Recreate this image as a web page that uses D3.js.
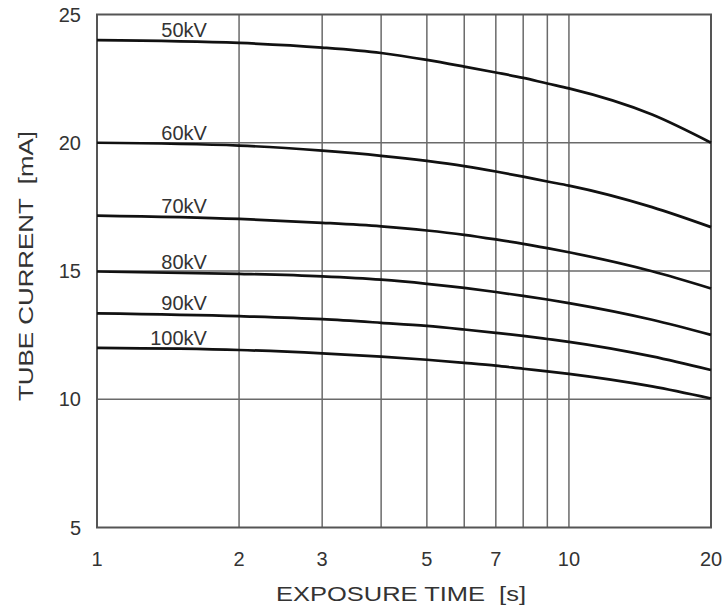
<!DOCTYPE html>
<html>
<head>
<meta charset="utf-8">
<script src="https://cdn.jsdelivr.net/npm/d3@7"></script>
<style>
  html, body { margin: 0; padding: 0; background: #fff; }
  text { font-family: "Liberation Sans", Arial, sans-serif; fill: #333; }
</style>
</head>
<body>
<svg id="chart" width="727" height="613"></svg>
<script>
// ---- data ----
const exposureTimes = [1, 2, 3, 4, 5, 6, 7, 8, 9, 10, 15, 20];
const seriesNames = ["50kV", "60kV", "70kV", "80kV", "90kV", "100kV"];
const current50kV  = [24.0, 23.89, 23.71, 23.5, 23.23, 22.97, 22.74, 22.53, 22.31, 22.12, 21.1, 20.0];
const current60kV  = [20.0, 19.89, 19.69, 19.49, 19.29, 19.09, 18.88, 18.68, 18.49, 18.33, 17.49, 16.71];
const current70kV  = [17.16, 17.03, 16.88, 16.74, 16.58, 16.41, 16.23, 16.06, 15.89, 15.73, 14.99, 14.32];
const current80kV  = [14.98, 14.89, 14.79, 14.66, 14.5, 14.34, 14.18, 14.03, 13.89, 13.75, 13.1, 12.51];
const current90kV  = [13.35, 13.24, 13.12, 12.98, 12.86, 12.72, 12.59, 12.47, 12.35, 12.24, 11.67, 11.14];
const current100kV = [12.0, 11.92, 11.79, 11.66, 11.54, 11.42, 11.31, 11.19, 11.09, 10.99, 10.5, 10.03];
const xTickLabels = [1, 2, 3, 5, 7, 10, 20];
const xGridValues = [2, 3, 4, 5, 6, 7, 8, 9, 10];
const yTickLabels = [5, 10, 15, 20, 25];
const yGridValues = [10, 15, 20];
const xTitle = "EXPOSURE TIME  [s]";
const yTitle = "TUBE CURRENT  [mA]";

const allSeries = [current50kV, current60kV, current70kV, current80kV, current90kV, current100kV];

// ---- layout ----
const svg = d3.select("#chart");
const plotLeft = 97, plotRight = 711, plotTop = 14.5, plotBottom = 527.5;

const x = d3.scaleLog().domain([1, 20]).range([plotLeft, plotRight]);
const y = d3.scaleLinear().domain([5, 25]).range([plotBottom, plotTop]);

// gridlines
const grid = svg.append("g").attr("stroke", "#6a6a6a").attr("stroke-width", 1.5);
grid.selectAll("line.v").data(xGridValues).enter().append("line")
  .attr("x1", d => x(d)).attr("x2", d => x(d))
  .attr("y1", plotTop).attr("y2", plotBottom);
grid.selectAll("line.h").data(yGridValues).enter().append("line")
  .attr("x1", plotLeft).attr("x2", plotRight)
  .attr("y1", d => y(d)).attr("y2", d => y(d));

// frame
svg.append("rect")
  .attr("x", plotLeft).attr("y", plotTop)
  .attr("width", plotRight - plotLeft).attr("height", plotBottom - plotTop)
  .attr("fill", "none").attr("stroke", "#555").attr("stroke-width", 2);

// curves
const line = d3.line()
  .x((d, i) => x(exposureTimes[i]))
  .y(d => y(d))
  .curve(d3.curveMonotoneX);

svg.append("g").selectAll("path").data(allSeries).enter().append("path")
  .attr("d", d => line(d))
  .attr("fill", "none").attr("stroke", "#111").attr("stroke-width", 2.7);

// series labels
const labelAt = 1.71;
svg.append("g").selectAll("text").data(seriesNames).enter().append("text")
  .attr("x", x(labelAt))
  .attr("y", (d, i) => y(allSeries[i][0]) - 3)
  .attr("text-anchor", "end")
  .attr("font-size", 20)
  .text(d => d);

// x tick labels
svg.append("g").selectAll("text").data(xTickLabels).enter().append("text")
  .attr("x", d => x(d))
  .attr("y", 566)
  .attr("text-anchor", "middle")
  .attr("font-size", 20)
  .text(d => d);

// y tick labels
svg.append("g").selectAll("text").data(yTickLabels).enter().append("text")
  .attr("x", 81)
  .attr("y", d => y(d))
  .attr("dy", "0.36em")
  .attr("text-anchor", "end")
  .attr("font-size", 20)
  .text(d => d);

// axis titles
svg.append("text")
  .attr("x", 401).attr("y", 601)
  .attr("text-anchor", "middle")
  .attr("font-size", 21)
  .attr("textLength", 250)
  .attr("lengthAdjust", "spacingAndGlyphs")
  .style("white-space", "pre")
  .text(xTitle);

svg.append("text")
  .attr("transform", "translate(33,266) rotate(-90)")
  .attr("text-anchor", "middle")
  .attr("font-size", 21)
  .attr("textLength", 270)
  .attr("lengthAdjust", "spacingAndGlyphs")
  .style("white-space", "pre")
  .text(yTitle);
</script>
</body>
</html>
